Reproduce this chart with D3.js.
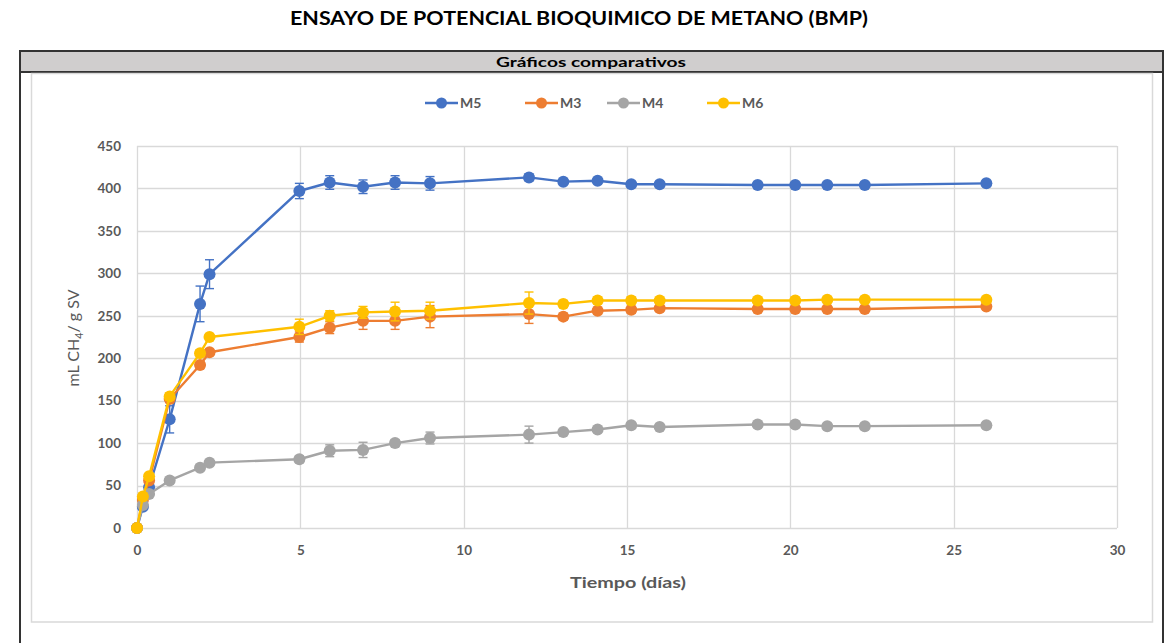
<!DOCTYPE html>
<html>
<head>
<meta charset="utf-8">
<script src="https://cdn.jsdelivr.net/npm/d3@7"></script>
<style>
  html, body { margin: 0; padding: 0; background: #ffffff; }
  svg { display: block; }
</style>
</head>
<body>
<svg id="chart" width="1173" height="643"></svg>
<script>
// Measurement times (days)
const days = [0, 0.18, 0.37, 1, 1.93, 2.22, 4.97, 5.9, 6.92, 7.9, 8.97, 12, 13.05, 14.1, 15.13, 16, 19, 20.15, 21.13, 22.28, 26];

// Cumulative methane yield, mL CH4 / g SV
const m5 = [0, 25, 48, 128, 264, 299, 397, 407, 402, 407, 406, 413, 408, 409, 405, 405, 404, 404, 404, 404, 406];
const m3 = [0, 33, 56, 152, 192, 207, 225, 236, 244, 244, 249, 252, 249, 256, 257, 259, 258, 258, 258, 258, 261];
const m4 = [0, 27, 40, 56, 71, 77, 81, 91, 92, 100, 106, 110, 113, 116, 121, 119, 122, 122, 120, 120, 121];
const m6 = [0, 37, 61, 155, 206, 225, 237, 250, 254, 255, 256, 265, 264, 268, 268, 268, 268, 268, 269, 269, 269];

// Standard deviations (error bars)
const m5Err = [0, 2, 3, 16, 21, 17, 9, 8, 8, 8, 8, 4, 3, 3, 3, 3, 3, 3, 3, 3, 3];
const m3Err = [0, 2, 3, 4, 4, 3, 6, 7, 10, 10, 13, 11, 4, 4, 4, 3, 3, 3, 3, 3, 3];
const m4Err = [0, 2, 2, 3, 3, 3, 4, 7, 9, 4, 7, 10, 3, 3, 3, 3, 3, 3, 3, 3, 3];
const m6Err = [0, 2, 3, 4, 4, 3, 9, 6, 7, 11, 10, 13, 4, 4, 4, 3, 3, 3, 3, 3, 3];

const seriesNames = ["M5", "M3", "M4", "M6"];
const seriesColors = ["#4472C4", "#ED7D31", "#A5A5A5", "#FFC000"];

const xTicks = [0, 5, 10, 15, 20, 25, 30];
const yTicks = [0, 50, 100, 150, 200, 250, 300, 350, 400, 450];

const series = [
  { name: seriesNames[0], color: seriesColors[0], values: m5, err: m5Err },
  { name: seriesNames[1], color: seriesColors[1], values: m3, err: m3Err },
  { name: seriesNames[2], color: seriesColors[2], values: m4, err: m4Err },
  { name: seriesNames[3], color: seriesColors[3], values: m6, err: m6Err }
];

const svg = d3.select("#chart");
const font = "Lato, 'Open Sans', 'Liberation Sans', sans-serif";
const textGray = "#595959";
const gridGray = "#d9d9d9";

// Page title
svg.append("text")
  .attr("x", 579).attr("y", 25)
  .attr("text-anchor", "middle")
  .attr("font-family", font).attr("font-weight", "bold")
  .attr("font-size", 18).attr("fill", "#000")
  .attr("textLength", 578).attr("lengthAdjust", "spacingAndGlyphs")
  .text("ENSAYO DE POTENCIAL BIOQUIMICO DE METANO (BMP)");

// Outer frame and header band
svg.append("rect")
  .attr("x", 20).attr("y", 51).attr("width", 1143).attr("height", 610)
  .attr("fill", "none").attr("stroke", "#333").attr("stroke-width", 2);
svg.append("rect")
  .attr("x", 20).attr("y", 51).attr("width", 1143).attr("height", 21)
  .attr("fill", "#d0cece").attr("stroke", "#333").attr("stroke-width", 2);
svg.append("text")
  .attr("x", 591).attr("y", 66.5)
  .attr("text-anchor", "middle")
  .attr("font-family", font).attr("font-weight", "bold")
  .attr("font-size", 14).attr("fill", "#000")
  .attr("textLength", 190).attr("lengthAdjust", "spacingAndGlyphs")
  .text("Gráficos comparativos");

// Chart area box
svg.append("rect")
  .attr("x", 31.5).attr("y", 73.5).attr("width", 1121).attr("height", 548.5)
  .attr("fill", "#fff").attr("stroke", gridGray).attr("stroke-width", 1.5);

// Scales
const x = d3.scaleLinear().domain([0, 30]).range([137, 1117]);
const y = d3.scaleLinear().domain([0, 450]).range([528, 146]);

// Gridlines
const grid = svg.append("g");
grid.selectAll("line.h").data(yTicks).join("line")
  .attr("x1", x(0)).attr("x2", x(30))
  .attr("y1", d => Math.round(y(d)) + 0.5).attr("y2", d => Math.round(y(d)) + 0.5)
  .attr("stroke", gridGray).attr("stroke-width", 1.3);
grid.selectAll("line.v").data(xTicks).join("line")
  .attr("y1", y(0)).attr("y2", y(450))
  .attr("x1", d => Math.round(x(d)) + 0.5).attr("x2", d => Math.round(x(d)) + 0.5)
  .attr("stroke", gridGray).attr("stroke-width", 1.3);

// Axes (labels only; lines come from the grid)
const xAxis = svg.append("g")
  .attr("transform", `translate(0,${y(0)})`)
  .call(d3.axisBottom(x).tickValues(xTicks).tickSize(0).tickPadding(17));
const yAxis = svg.append("g")
  .attr("transform", `translate(${x(0)},0)`)
  .call(d3.axisLeft(y).tickValues(yTicks).tickSize(0).tickPadding(16));
[xAxis, yAxis].forEach(a => {
  a.select(".domain").remove();
  a.selectAll("text")
    .attr("font-family", font).attr("font-size", 13.5)
    .attr("font-weight", "bold").attr("fill", textGray);
});

// Axis titles
svg.append("text")
  .attr("x", 628).attr("y", 588)
  .attr("text-anchor", "middle")
  .attr("font-family", font).attr("font-size", 16).attr("font-weight", "bold")
  .attr("fill", textGray)
  .attr("textLength", 116).attr("lengthAdjust", "spacingAndGlyphs")
  .text("Tiempo (días)");

const yTitle = svg.append("text")
  .attr("transform", "translate(79,338) rotate(-90)")
  .attr("text-anchor", "middle")
  .attr("font-family", font).attr("font-size", 16)
  .attr("fill", textGray);
yTitle.append("tspan").text("mL CH");
yTitle.append("tspan").attr("font-size", 11).attr("dy", 4).text("4");
yTitle.append("tspan").attr("dy", -4).text("/ g SV");

// Series: lines, error bars, markers
const line = d3.line().x(d => x(d.t)).y(d => y(d.v));
const capHalf = 4.5;

series.forEach(s => {
  const pts = days.map((t, i) => ({ t, v: s.values[i], e: s.err[i] }));
  const g = svg.append("g");

  g.append("path")
    .datum(pts)
    .attr("d", line)
    .attr("fill", "none")
    .attr("stroke", s.color)
    .attr("stroke-width", 2.4)
    .attr("stroke-linejoin", "round");

  const eb = g.append("g").attr("stroke", s.color).attr("stroke-width", 1.4);
  const withErr = pts.filter(p => p.e > 0);
  eb.selectAll("line.v").data(withErr).join("line")
    .attr("x1", d => x(d.t)).attr("x2", d => x(d.t))
    .attr("y1", d => y(d.v - d.e)).attr("y2", d => y(d.v + d.e));
  eb.selectAll("line.top").data(withErr).join("line")
    .attr("x1", d => x(d.t) - capHalf).attr("x2", d => x(d.t) + capHalf)
    .attr("y1", d => y(d.v + d.e)).attr("y2", d => y(d.v + d.e));
  eb.selectAll("line.bot").data(withErr).join("line")
    .attr("x1", d => x(d.t) - capHalf).attr("x2", d => x(d.t) + capHalf)
    .attr("y1", d => y(d.v - d.e)).attr("y2", d => y(d.v - d.e));

  g.selectAll("circle").data(pts).join("circle")
    .attr("cx", d => x(d.t)).attr("cy", d => y(d.v))
    .attr("r", 6)
    .attr("fill", s.color);
});

// Legend
const legendX = [425, 525, 607, 707];
const legend = svg.append("g");
series.forEach((s, i) => {
  const lg = legend.append("g").attr("transform", `translate(${legendX[i]},103)`);
  lg.append("line").attr("x1", 0).attr("x2", 33).attr("y1", 0).attr("y2", 0)
    .attr("stroke", s.color).attr("stroke-width", 2.4);
  lg.append("circle").attr("cx", 16.5).attr("cy", 0).attr("r", 5.5).attr("fill", s.color);
  lg.append("text").attr("x", 35).attr("y", 5)
    .attr("font-family", font).attr("font-size", 14).attr("font-weight", "bold")
    .attr("fill", textGray).text(s.name);
});
</script>
</body>
</html>
